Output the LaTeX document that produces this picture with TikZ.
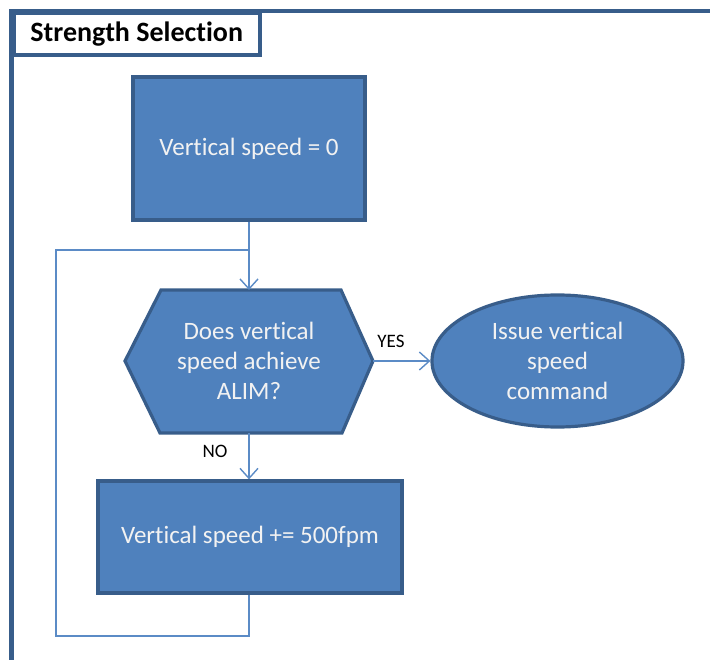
\documentclass[tikz,border=0pt]{standalone}
\usepackage{fontspec}
\setmainfont[Ligatures=NoCommon]{Carlito}
\usetikzlibrary{arrows.meta,shapes.geometric}
\definecolor{fillblue}{HTML}{4F81BD}
\definecolor{edgeblue}{HTML}{385D8A}
\definecolor{lineblue}{HTML}{5B8BC6}
\definecolor{txt}{HTML}{F2F2F2}
\tikzset{
  shapebox/.style={draw=edgeblue, line width=3.2pt, fill=fillblue, text=txt, font=\fontsize{25}{30}\selectfont, align=center, inner sep=0pt},
  conn/.style={draw=lineblue, line width=1.6pt},
  arr/.style={conn, -{Straight Barb[length=10pt,width=18pt,line width=1.4pt]}},
  lbl/.style={font=\fontsize{19}{20}\selectfont, text=black, inner sep=0pt},
}
\begin{document}
\begin{tikzpicture}[x=1pt,y=-1pt]
\useasboundingbox (0,0) rectangle (710,660);
% frame
\draw[edgeblue, line width=4.5pt] (11.5,660) -- (11.5,11) -- (710,11);
\node[draw=edgeblue, line width=4.5pt, fill=white, minimum width=246pt, minimum height=42pt, inner sep=0pt, anchor=north west, font=\fontsize{28}{30}\selectfont\bfseries] (title) at (11.5,11) {Strength Selection};
% box 1
\node[shapebox, minimum width=232pt, minimum height=143pt] (b1) at (249,148.5) {Vertical speed = 0};
% hexagon
\path[shapebox] (125,361) -- (161,290) -- (341,290) -- (373,361) -- (342,433) -- (160,433) -- cycle;
\node[text=txt, font=\fontsize{25}{30}\selectfont, align=center, inner sep=0pt] (hex) at (249,361) {Does vertical\\speed achieve\\ALIM?};
\coordinate (hexT) at (249,290);
\coordinate (hexR) at (373,361);
\coordinate (hexB) at (249,433);
% ellipse
\node[shapebox, ellipse, minimum width=251pt, minimum height=132pt] (ell) at (557.5,361) {Issue vertical\\speed\\command};
% box 3
\node[shapebox, minimum width=304pt, minimum height=112pt] (b3) at (250,537) {Vertical speed += 500fpm};
% connectors
\coordinate (j) at (249,250);
\coordinate (lt) at (56,250);
\coordinate (lb) at (56,636);
\coordinate (rb) at (249,636);
\draw[arr] (b1.south -| hexT) -- (hexT);
\draw[arr] (hexR) -- (ell.west);
\draw[arr] (hexB) -- (b3.north -| hexB);
\draw[conn] (b3.south -| rb) -- (rb) -- (lb) -- (lt) -- (j);
% labels
\node[lbl] (yes) at (391,341) {YES};
\node[lbl] (no) at (215,451) {NO};
\end{tikzpicture}
\end{document}
